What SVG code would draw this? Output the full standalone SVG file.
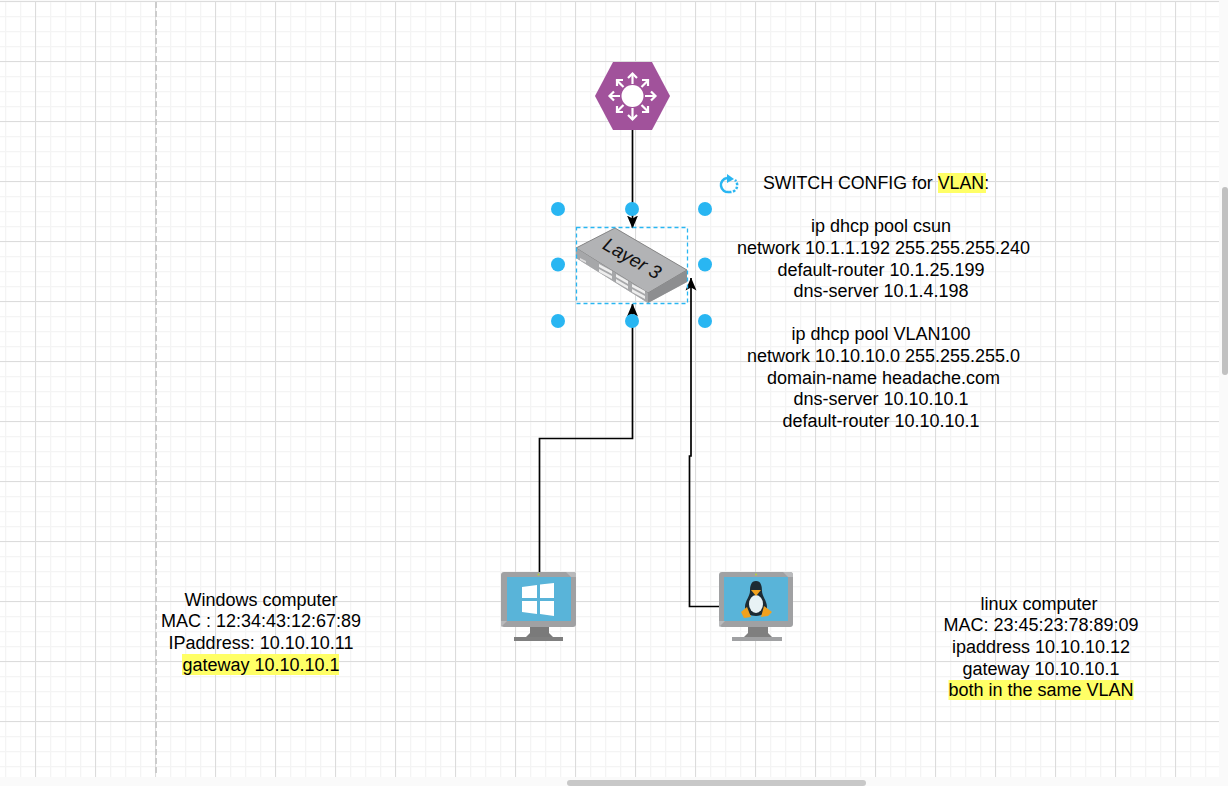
<svg xmlns="http://www.w3.org/2000/svg" width="1228" height="786" viewBox="0 0 1228 786">
<style>
.t{font-family:"Liberation Sans",Arial,sans-serif;font-size:18px;fill:#000;text-anchor:middle}
.hl{fill:#ffff66}
.c{fill:none;stroke:#000;stroke-width:1.700}
.h{fill:#29b6f2}
.minor{stroke:#f4f4f4;stroke-width:1.500;fill:none}
.major{stroke:#dcdcdc;stroke-width:1;fill:none}
</style>
<defs>
<pattern id="gMinor" x="5" y="1" width="15" height="15" patternUnits="userSpaceOnUse"><path class="minor" d="M0.500 0V15M0 0.500H15"/></pattern>
<pattern id="gMajor" x="35" y="1" width="60" height="60" patternUnits="userSpaceOnUse"><path class="major" d="M0.500 0V60M0 0.500H60"/></pattern>
<marker id="arr" viewBox="0 0 13 12" refX="12.500" refY="6" markerWidth="13" markerHeight="12" markerUnits="userSpaceOnUse" orient="auto"><path d="M0 0.500L13 6L0 11.500L3 6Z" fill="#000"/></marker>
</defs>
<rect width="1228" height="786" fill="#fafafa"/>
<g id="canvas">
<rect x="0" y="1" width="1219" height="776" fill="#fff"/>
<rect x="0" y="1" width="1219" height="776" fill="url(#gMinor)"/>
<rect x="0" y="1" width="1219" height="776" fill="url(#gMajor)"/>
<path d="M156 2V776" stroke="#cccccc" stroke-width="2" stroke-dasharray="6 3" fill="none"/>
</g>
<g id="router">
<path d="M595 96L613 62H652L670 96L652 130H613Z" fill="#a1529b"/>
<g fill="none" stroke="#fff" stroke-width="2.200">
<path d="M632.500 84V74M632.500 108V119M620 96H610M645 96H655M623.500 87L616.500 80M641.500 87L648.500 80M623.500 105L616.500 112M641.500 105L648.500 112"/>
<path d="M628 78L632.500 73.500L637 78M628 115L632.500 119.500L637 115M614 91.500L609.500 96L614 100.500M651 91.500L655.500 96L651 100.500M617 86V80H623M648 86V80H642M617 106V112H623M648 106V112H642"/>
</g>
<circle cx="632.500" cy="96" r="11" fill="#fff"/>
</g>
<g id="switch">
<path d="M576 248L615 228L687 270V282L648 303L576 258Z" fill="#b4b4b6"/>
<path d="M576 248L615 228L687 270L648 293Z" fill="#b2b3b5" stroke="#777" stroke-width="0.800"/>
<path d="M648 293L687 270V282L648 303Z" fill="#8d8e90"/>
<path d="M576 248L648 293V303L576 258Z" fill="#a6a7a9"/>
<g fill="#eee"><path d="M580 258L586 261V263L580 260Z" fill="#ddd"/><path d="M599 264L612 271V274L599 267Z"/><path d="M599 269L612 276V279L599 272Z"/><path d="M616 274L628 281V284L616 277Z"/><path d="M616 279L628 286V289L616 282Z"/><path d="M632 284L645 291V294L632 287Z"/><path d="M632 289L645 296V299L632 292Z"/></g>
<text class="t" transform="translate(629 264) rotate(30)" style="font-style:italic;font-size:19px;fill:#111">Layer 3</text>
</g>
<g id="windows-pc">
<rect x="501" y="572" width="75" height="55" rx="3" fill="#a0a1a3"/>
<path d="M566 572H573A3 3 0 0 1 576 575V577H571Z" fill="#b9babc"/>
<path d="M501 627V621H507Z" fill="#b9babc"/>
<rect x="507" y="577" width="64" height="44" fill="#59b4d9"/>
<circle cx="538.500" cy="574.500" r="1" fill="#b7d433"/>
<path d="M530 627H549V633L553 637H526L530 633Z" fill="#7a7a7a"/><rect x="514" y="637" width="49" height="4" fill="#7f7f7f"/>
<path d="M522 587L537 585V598H522ZM540 584.500L554 583V598H540ZM522 601H537V614L522 612ZM540 601H554V616L540 614Z" fill="#fff"/>
</g>
<g id="linux-pc">
<rect x="719" y="572" width="74" height="55" rx="3" fill="#a0a1a3"/>
<path d="M783 572H790A3 3 0 0 1 793 575V577H788Z" fill="#b9babc"/>
<path d="M719 627V621H725Z" fill="#b9babc"/>
<rect x="724" y="577" width="64" height="44" fill="#59b4d9"/>
<circle cx="756" cy="574.500" r="1" fill="#b7d433"/>
<path d="M748 627H768V633L772 637H744L748 633Z" fill="#7f7f7f"/><rect x="732" y="637" width="50" height="4" fill="#a0a1a3"/>
<path d="M756 581C751 581 750 586 750 591C750 596 745 601 745 607C745 613 750 616 756 616C762 616 767 613 767 607C767 601 762 596 762 591C762 586 761 581 756 581Z" fill="#1d2b33"/>
<ellipse cx="756" cy="604" rx="7" ry="9" fill="#e8f2f5"/>
<path d="M751 590H761L756 596Z" fill="#f2a11e"/>
<path d="M741 612L747 607L751 617L744 618ZM772 612L764 606L761 617L768 616Z" fill="#f2a11e"/>
</g>
<g id="connectors">
<path class="c" d="M632.500 130V228" marker-end="url(#arr)"/>
<path class="c" d="M539.500 572V438.500H632.500V304" marker-end="url(#arr)"/>
<path class="c" d="M719 606.500H689.500V456H691V278" marker-end="url(#arr)"/>
</g>
<g id="selection">
<rect x="576.500" y="227.500" width="111" height="76" fill="none" stroke="#29b6f2" stroke-width="1.300" stroke-dasharray="4 3"/>
<circle class="h" cx="558" cy="209" r="7"/><circle class="h" cx="632" cy="209" r="7"/><circle class="h" cx="705" cy="209" r="7"/>
<circle class="h" cx="558" cy="264.500" r="7"/><circle class="h" cx="705" cy="264.500" r="7"/>
<circle class="h" cx="558" cy="321" r="7"/><circle class="h" cx="632" cy="321" r="7"/><circle class="h" cx="705" cy="321" r="7"/>
<path d="M727 178A7 7 0 0 0 729 192" fill="none" stroke="#29b6f2" stroke-width="2.500"/>
<path d="M729 192A7 7 0 0 0 735 180" fill="none" stroke="#29b6f2" stroke-width="2.500" stroke-dasharray="2.500 1.500"/>
<path d="M727 174L734 179L727 183Z" fill="#29b6f2"/>
</g>
<g id="switch-config">
<rect x="938" y="173" width="48" height="20" class="hl"/>
<text class="t" x="876" y="189" style="font-size:17.800px">SWITCH CONFIG for VLAN:</text>
<text class="t" x="881" y="232">ip dhcp pool csun</text>
<text class="t" x="883.500" y="254">network 10.1.1.192 255.255.255.240</text>
<text class="t" x="881" y="276">default-router 10.1.25.199</text>
<text class="t" x="881" y="297">dns-server 10.1.4.198</text>
<text class="t" x="881" y="340">ip dhcp pool VLAN100</text>
<text class="t" x="883.500" y="362">network 10.10.10.0 255.255.255.0</text>
<text class="t" x="883.500" y="384">domain-name headache.com</text>
<text class="t" x="881" y="405">dns-server 10.10.10.1</text>
<text class="t" x="881" y="427">default-router 10.10.10.1</text>
</g>
<g id="windows-label">
<rect x="182" y="654" width="157" height="21" class="hl"/>
<text class="t" x="261" y="606">Windows computer</text>
<text class="t" x="261" y="627">MAC : 12:34:43:12:67:89</text>
<text class="t" x="261" y="649">IPaddress: 10.10.10.11</text>
<text class="t" x="261" y="671">gateway 10.10.10.1</text>
</g>
<g id="linux-label">
<rect x="948.500" y="680" width="185" height="20" class="hl"/>
<text class="t" x="1039" y="610">linux computer</text>
<text class="t" x="1041" y="631">MAC: 23:45:23:78:89:09</text>
<text class="t" x="1041" y="653">ipaddress 10.10.10.12</text>
<text class="t" x="1041" y="675">gateway 10.10.10.1</text>
<text class="t" x="1041" y="696">both in the same VLAN</text>
</g>
<g id="scrollbars">
<rect x="1222" y="187" width="6" height="188" rx="3" fill="#c1c1c1"/>
<rect x="567" y="780" width="299" height="6" rx="3" fill="#c8c8c8"/>
</g>
</svg>
